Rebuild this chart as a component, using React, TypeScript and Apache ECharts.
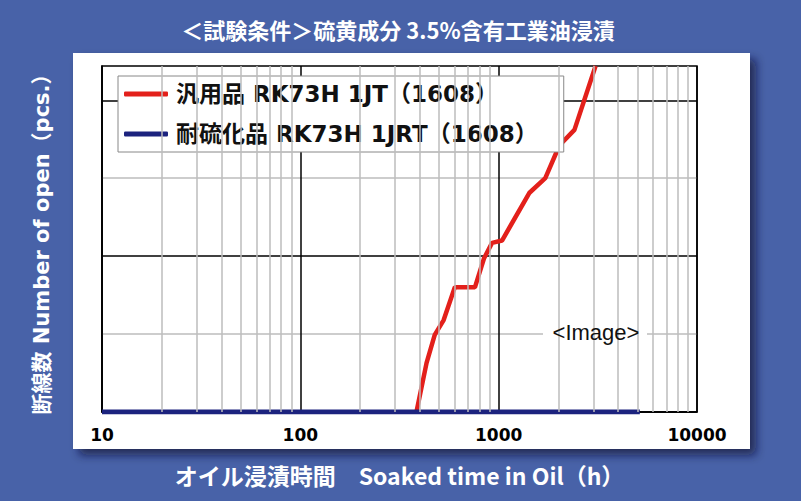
import React, { useEffect, useRef } from "react";
import * as echarts from "echarts";

const TITLE = "＜試験条件＞硫黄成分 3.5%含有工業油浸漬";
const X_TITLE = "オイル浸漬時間　Soaked time in Oil（h）";
const Y_TITLE = "断線数 Number of open（pcs.）";
const SERIES_NAMES = ["汎用品 RK73H 1JT（1608）", "耐硫化品 RK73H 1JRT（1608）"];

// [hours, count]
const GENERAL_DATA: [number, number][] = [
  [385, 0], [433, 6.3], [476, 9.9], [528, 11.8], [601, 16], [759, 16],
  [843, 19.7], [926, 21.7], [1040, 22], [1426, 28.1], [1718, 30],
  [2023, 34.2], [2410, 36.2], [3080, 44.4],
];
const RESISTANT_DATA: [number, number][] = [
  [10, 0], [5150, 0],
];
const MINOR_X_LINES = [
  20, 30, 40, 50, 60, 70, 80, 90,
  200, 300, 400, 500, 600, 700, 800, 900,
  2000, 3000, 4000, 5000, 6000, 7000, 8000, 9000,
];
const X_MIN = 10;
const X_MAX = 10000;
const Y_MIN = 0;
const Y_MAX = 44.4;
const Y_INTERVAL = 10;

const LATIN_CJK = "'DejaVu Sans', 'Noto Sans CJK JP', sans-serif";
const CJK = "'Noto Sans CJK JP', sans-serif";

export default function App() {
  const ref = useRef<HTMLDivElement>(null);
  useEffect(() => {
    if (!ref.current) return;
    const chart = echarts.init(ref.current, null, { renderer: "svg" });
    chart.setOption({
      animation: false,
      backgroundColor: "#4862a8",
      title: {
        text: TITLE,
        left: 393,
        textAlign: "center",
        top: 13,
        textStyle: { color: "#fff", fontSize: 22, fontWeight: "bold", fontFamily: CJK },
      },
      graphic: [
        {
          type: "rect",
          z: -1,
          shape: { x: 73, y: 53, width: 677, height: 396 },
          style: {
            fill: "#fff",
            shadowBlur: 10,
            shadowOffsetX: 6,
            shadowOffsetY: 6,
            shadowColor: "rgba(10,15,50,0.7)",
          },
        },
        {
          type: "rect",
          z: 5,
          shape: { x: 543, y: 309, width: 104, height: 46 },
          style: { fill: "#fff" },
        },
        {
          type: "text",
          z: 6,
          x: 596,
          y: 332,
          style: {
            text: "<Image>",
            fill: "#111",
            font: "22px 'Liberation Sans', Arial, sans-serif",
            textAlign: "center",
            textVerticalAlign: "middle",
          },
        },
      ],
      legend: {
        orient: "vertical",
        left: 118,
        top: 76,
        padding: [5, 26, 5, 6],
        itemGap: 14,
        itemWidth: 44,
        itemHeight: 5,
        icon: "roundRect",
        backgroundColor: "#fff",
        borderColor: "#888",
        borderWidth: 1,
        data: SERIES_NAMES,
        textStyle: {
          color: "#111",
          fontSize: 23,
          fontWeight: "bold",
          fontFamily: LATIN_CJK,
          lineHeight: 26,
          padding: [0, 0, 0, 3],
        },
      },
      grid: {
        left: 102,
        right: 104,
        top: 66,
        bottom: 89,
        show: true,
        borderColor: "#000",
        borderWidth: 1.5,
        backgroundColor: "transparent",
      },
      xAxis: {
        type: "log",
        logBase: 10,
        min: X_MIN,
        max: X_MAX,
        name: X_TITLE,
        nameLocation: "middle",
        nameGap: 51,
        nameTextStyle: { color: "#fff", fontSize: 23, fontWeight: "bold", fontFamily: CJK },
        axisLine: { lineStyle: { color: "#000", width: 1.5 } },
        axisTick: { show: false },
        axisLabel: {
          color: "#000",
          fontSize: 17,
          fontWeight: "bold",
          fontFamily: LATIN_CJK,
          margin: 14,
          formatter: (v: number) => String(Math.round(v)),
        },
        splitLine: { show: true, lineStyle: { color: "#000", width: 1.5 } },
      },
      yAxis: {
        type: "value",
        min: Y_MIN,
        max: Y_MAX,
        interval: Y_INTERVAL,
        name: Y_TITLE,
        nameLocation: "middle",
        nameRotate: 90,
        nameGap: 50,
        nameTextStyle: { color: "#fff", fontSize: 21, fontWeight: "bold", fontFamily: LATIN_CJK },
        axisLine: { show: true, lineStyle: { color: "#000", width: 1.5 } },
        axisTick: { show: false },
        axisLabel: { show: false },
        splitLine: {
          show: true,
          showMaxLine: false,
          lineStyle: { color: ["#000", "#bdbdbd"], width: 1.5 },
        },
      },
      series: [
        {
          name: "minor-grid",
          type: "line",
          data: [[X_MIN, Y_MIN]],
          symbol: "none",
          silent: true,
          z: 1,
          lineStyle: { opacity: 0 },
          markLine: {
            silent: true,
            symbol: "none",
            label: { show: false },
            lineStyle: { color: "#bdbdbd", width: 1.5, type: "solid" },
            data: MINOR_X_LINES.map((v) => ({ xAxis: v })),
          },
        },
        {
          name: SERIES_NAMES[0],
          type: "line",
          data: GENERAL_DATA,
          symbol: "none",
          z: 3,
          color: "#e3201b",
          lineStyle: { color: "#e3201b", width: 4.5 },
        },
        {
          name: SERIES_NAMES[1],
          type: "line",
          data: RESISTANT_DATA,
          symbol: "none",
          z: 4,
          color: "#1c237e",
          lineStyle: { color: "#1c237e", width: 5 },
        },
      ],
    });
    return () => chart.dispose();
  }, []);
  return (
    <div
      ref={ref}
      style={{ position: "fixed", left: 0, top: 0, width: 801, height: 501 }}
    />
  );
}
